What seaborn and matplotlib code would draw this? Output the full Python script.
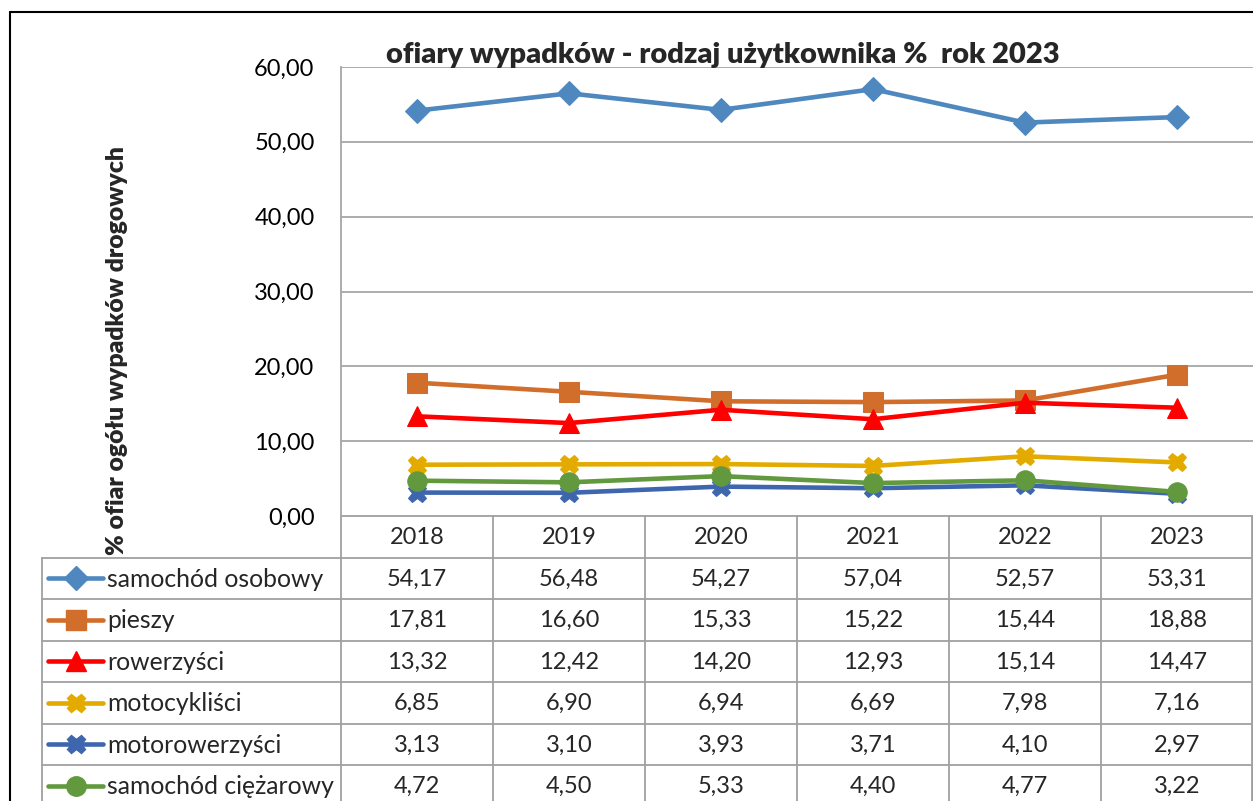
import matplotlib
matplotlib.use("Agg")
import matplotlib.pyplot as plt
import seaborn as sns
import pandas as pd

# ---- data ----
years = [2018, 2019, 2020, 2021, 2022, 2023]
series_names = ["samochód osobowy", "pieszy", "rowerzyści", "motocykliści",
                "motorowerzyści", "samochód ciężarowy"]
samochod_osobowy = [54.17, 56.48, 54.27, 57.04, 52.57, 53.31]
pieszy = [17.81, 16.60, 15.33, 15.22, 15.44, 18.88]
rowerzysci = [13.32, 12.42, 14.20, 12.93, 15.14, 14.47]
motocyklisci = [6.85, 6.90, 6.94, 6.69, 7.98, 7.16]
motorowerzysci = [3.13, 3.10, 3.93, 3.71, 4.10, 2.97]
samochod_ciezarowy = [4.72, 4.50, 5.33, 4.40, 4.77, 3.22]
y_ticks = [0, 10, 20, 30, 40, 50, 60]
title = "ofiary wypadków - rodzaj użytkownika %  rok 2023"
ylabel = "% ofiar ogółu wypadków drogowych"

values = [samochod_osobowy, pieszy, rowerzysci, motocyklisci, motorowerzysci, samochod_ciezarowy]
colors = ["#4F88BE", "#D26E2B", "#FF0000", "#E3AA00", "#3E66AE", "#62993E"]
markers = ["D", "s", "^", "X", "X", "o"]
msizes = [12, 14, 14, 13, 13, 14]

df = pd.DataFrame({
    "year": years * len(series_names),
    "value": sum(values, []),
    "series": [n for n in series_names for _ in years],
})

sns.set_theme(style="white")
plt.rcParams["font.family"] = ["Lato", "DejaVu Sans"]

W, H = 1253, 801
fig = plt.figure(figsize=(W / 100, H / 100), dpi=100)

def fx(px):
    return px / W

def fy(py):
    return 1 - py / H

ax_l, ax_r, ax_t, ax_b = 341, 1253, 67, 516
ax = fig.add_axes([fx(ax_l), fy(ax_b), (ax_r - ax_l) / W, (ax_b - ax_t) / H])
ax.set_zorder(3)
ax.patch.set_alpha(0)

for name, col, mk, ms in zip(series_names, colors, markers, msizes):
    sub = df[df["series"] == name]
    sns.lineplot(data=sub, x="year", y="value", ax=ax, color=col, marker=mk,
                 markersize=ms, markeredgecolor=col, markerfacecolor=col,
                 linewidth=3.3, legend=False)

ax.set_xlim(years[0] - 0.5, years[-1] + 0.5)
ax.set_ylim(0, 60)
ax.set_yticks(y_ticks)
ax.set_yticklabels([f"{v:.2f}".replace(".", ",") for v in y_ticks], fontsize=17)
ax.set_xticks([])
ax.set_xlabel("")
ax.set_ylabel("")
ax.tick_params(axis="y", length=0, pad=19, colors="black")
ax.grid(axis="y", color="#A6A6A6", linewidth=1.3)
for s in ["top", "right", "bottom"]:
    ax.spines[s].set_visible(False)
ax.spines["left"].set_color("#A6A6A6")
ax.spines["left"].set_linewidth(1.3)

# ---- overlay axes in pixel coords for table, title, label, border ----
ov = fig.add_axes([0, 0, 1, 1])
ov.set_xlim(0, W)
ov.set_ylim(H, 0)
ov.axis("off")
ov.set_zorder(1)

ov.plot([10, 10], [12, H], color="black", lw=1.5)
ov.plot([10, W], [12, 12], color="black", lw=1.5)

fig.text(fx(723), fy(63), title, ha="center", va="baseline",
         fontsize=21, fontweight="heavy", zorder=5)
fig.text(fx(117), fy(351), ylabel, ha="center", va="center", rotation=90,
         fontsize=17.8, fontweight="heavy")

grid_c = "#A0A0A0"
col_edges = [341 + 152 * i for i in range(7)]
row_h = 41.5
row_edges = [516 + row_h * i for i in range(8)]
# horizontal lines
ov.plot([ax_l, W], [row_edges[0]] * 2, color=grid_c, lw=1.3)
for yv in row_edges[1:7]:
    ov.plot([42, W], [yv, yv], color=grid_c, lw=1.3)
# vertical lines
ov.plot([42, 42], [row_edges[1], H], color=grid_c, lw=1.3)
for xv in col_edges:
    ov.plot([xv, xv], [row_edges[0], H], color=grid_c, lw=1.3)
ov.plot([W - 1.5, W - 1.5], [row_edges[0], H], color=grid_c, lw=1.3)

fs_tab = 17
for j, yr in enumerate(years):
    cx = (col_edges[j] + col_edges[j + 1]) / 2
    ov.text(cx, (row_edges[0] + row_edges[1]) / 2 + 1, str(yr), ha="center",
            va="center", fontsize=fs_tab)

for i, (name, vals, col, mk, ms) in enumerate(zip(series_names, values, colors, markers, msizes)):
    cy = (row_edges[i + 1] + row_edges[i + 2]) / 2
    ov.plot([48, 103], [cy, cy], color=col, lw=3.3)
    ov.plot([76], [cy], marker=mk, markersize=ms, color=col)
    ov.text(107, cy + 1, name, ha="left", va="center", fontsize=17.8)
    for j, v in enumerate(vals):
        cx = (col_edges[j] + col_edges[j + 1]) / 2
        ov.text(cx, cy + 1, f"{v:.2f}".replace(".", ","), ha="center",
                va="center", fontsize=fs_tab)

fig.savefig("out.png", dpi=100)
